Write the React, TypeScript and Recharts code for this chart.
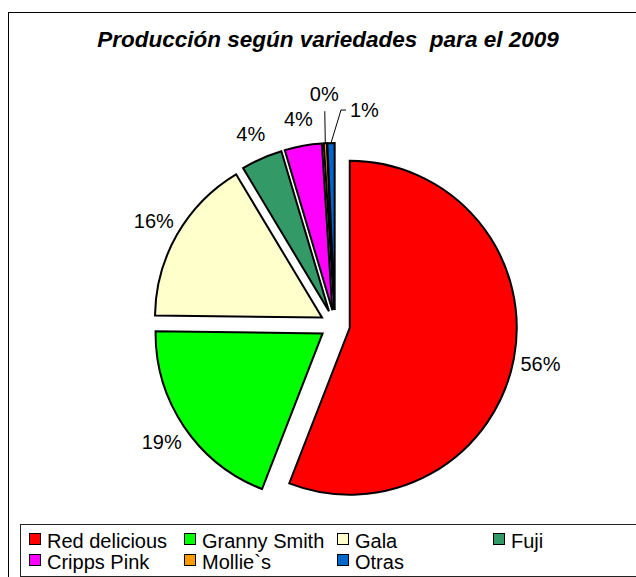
import React from 'react';
import { PieChart, Pie, Cell } from 'recharts';

const varieties = ['Red delicious', 'Granny Smith', 'Gala', 'Fuji', 'Cripps Pink', 'Mollie`s', 'Otras'];
const shares = [55.9, 19.3, 16.2, 4.0, 3.6, 0.3, 0.7];
const colors = ['#FF0000', '#00FF00', '#FFFFCC', '#339966', '#FF00FF', '#FF9900', '#0066CC'];
const title = 'Producción según variedades\u00a0 para el 2009';

const data = varieties.map((name, i) => ({ name, value: shares[i] }));
const total = shares.reduce((a, b) => a + b, 0);

const FONT = '"Liberation Sans", Arial, sans-serif';
const CX = 335;
const CY = 325;
const R = 167;
const EXPLODE = 15;
const RAD = Math.PI / 180;

// every slice is pulled out along its own mid angle
let acc = 0;
const offsets = shares.map((v) => {
  const mid = 90 - ((acc + v / 2) / total) * 360;
  acc += v;
  return { dx: EXPLODE * Math.cos(mid * RAD), dy: -EXPLODE * Math.sin(mid * RAD) };
});

const polar = (cx: number, cy: number, r: number, angle: number) => ({
  x: cx + r * Math.cos(-angle * RAD),
  y: cy + r * Math.sin(-angle * RAD),
});

const makeLabel = (target: number) => (props: any) => {
  const { cx, cy, midAngle, outerRadius, index } = props;
  if (index !== target) return <g />;
  const text = `${Math.round((shares[index] / total) * 100)}%`;
  const textStyle = { fontFamily: FONT, fontSize: 20, fill: '#000' };
  if (index === 5) {
    const p = polar(cx, cy, outerRadius, midAngle);
    return (
      <g>
        <polyline points={`${p.x},${p.y} ${p.x - 0.5},${p.y - 32}`} stroke="#000" fill="none" strokeWidth={1} />
        <text x={p.x - 1} y={p.y - 49} textAnchor="middle" dominantBaseline="central" {...textStyle}>{text}</text>
      </g>
    );
  }
  if (index === 6) {
    const p = polar(cx, cy, outerRadius, midAngle);
    return (
      <g>
        <polyline
          points={`${p.x},${p.y} ${p.x + 10},${p.y - 33} ${p.x + 15},${p.y - 33}`}
          stroke="#000"
          fill="none"
          strokeWidth={1}
        />
        <text x={p.x + 19} y={p.y - 33} textAnchor="start" dominantBaseline="central" {...textStyle}>{text}</text>
      </g>
    );
  }
  const p = polar(cx, cy, outerRadius + 27, midAngle);
  return (
    <text x={p.x} y={p.y} textAnchor="middle" dominantBaseline="central" {...textStyle}>{text}</text>
  );
};

const legendRows = [[0, 1, 2, 3], [4, 5, 6]];
const legendCols = [29, 184, 337, 493];

const App = () => {
  return (
    <div style={{ position: 'absolute', left: 0, top: 0, width: 636, height: 577, overflow: 'hidden', background: '#fff' }}>
      <div style={{ position: 'absolute', left: 8, top: 12, width: 700, height: 700, border: '1px solid #000' }} />
      <div
        style={{
          position: 'absolute',
          left: 0,
          top: 29,
          width: 656,
          textAlign: 'center',
          fontFamily: FONT,
          fontSize: 22.5,
          lineHeight: '22px',
          fontWeight: 'bold',
          fontStyle: 'italic',
          whiteSpace: 'pre',
        }}
      >
        {title}
      </div>
      <div style={{ position: 'absolute', left: 0, top: 0 }}>
        <PieChart width={636} height={577} margin={{ top: 0, right: 0, bottom: 0, left: 0 }}>
          {data.map((_, i) => (
            <Pie
              key={varieties[i]}
              data={data}
              dataKey="value"
              nameKey="name"
              cx={CX + offsets[i].dx}
              cy={CY + offsets[i].dy}
              outerRadius={R}
              startAngle={90}
              endAngle={-270}
              isAnimationActive={false}
              label={makeLabel(i)}
              labelLine={false}
            >
              {data.map((d, j) => (
                <Cell
                  key={d.name}
                  fill={j === i ? colors[j] : 'none'}
                  stroke={j === i ? '#000' : 'none'}
                  strokeWidth={2}
                />
              ))}
            </Pie>
          ))}
        </PieChart>
      </div>
      <div style={{ position: 'absolute', left: 20, top: 524, width: 700, height: 51, border: '1px solid #222' }} />
      {legendRows.map((row, r) =>
        row.map((idx, c) => (
          <React.Fragment key={varieties[idx]}>
            <div
              style={{
                position: 'absolute',
                left: legendCols[c],
                top: 533 + r * 21,
                width: 10,
                height: 10,
                border: '1.5px solid #000',
                background: colors[idx],
              }}
            />
            <div
              style={{
                position: 'absolute',
                left: legendCols[c] + 18,
                top: 531 + r * 21,
                fontFamily: FONT,
                fontSize: 20,
                lineHeight: '20px',
                whiteSpace: 'pre',
              }}
            >
              {varieties[idx]}
            </div>
          </React.Fragment>
        ))
      )}
    </div>
  );
};

export default App;
